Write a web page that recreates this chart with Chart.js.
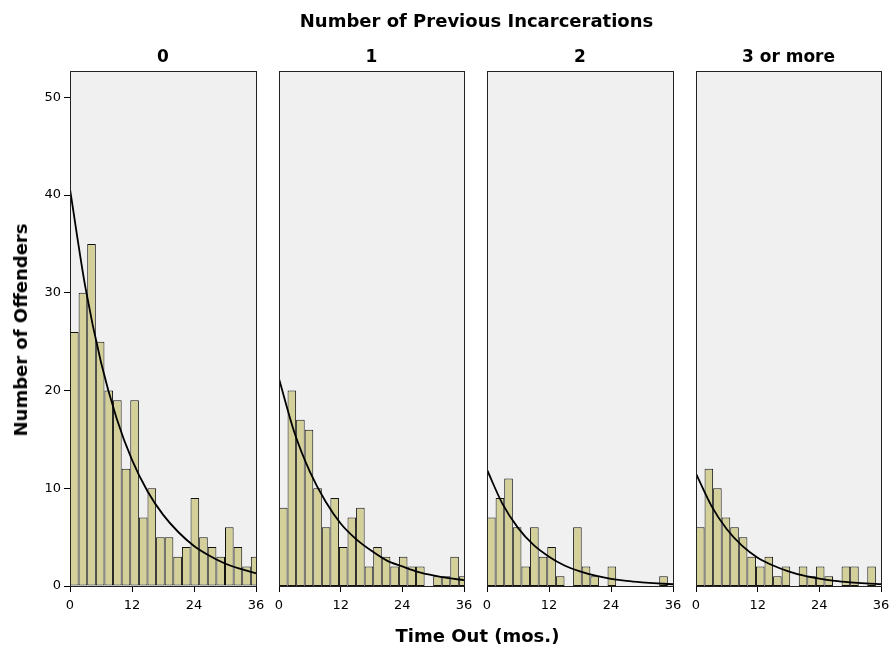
<!DOCTYPE html>
<html>
<head>
<meta charset="utf-8">
<script src="https://cdn.jsdelivr.net/npm/chart.js@4/dist/chart.umd.min.js"></script>
<style>
body{margin:0;background:#fff;}
#wrap{position:relative;width:891px;height:649px;overflow:hidden;font-family:"DejaVu Sans",sans-serif;}
#wrap canvas{position:absolute;left:0;top:0;}
.lbl{position:absolute;font-weight:bold;color:#000;white-space:nowrap;line-height:1;text-align:center;}
</style>
</head>
<body>
<div id="wrap">
	<canvas id="p0" width="930" height="649"></canvas>
	<canvas id="p1" width="930" height="649"></canvas>
	<canvas id="p2" width="930" height="649"></canvas>
	<canvas id="p3" width="930" height="649"></canvas>
	<div class="lbl" style="left:0;width:953px;top:12px;font-size:18px">Number of Previous Incarcerations</div>
	<div class="lbl" id="h0" style="top:48px;font-size:17px"></div>
	<div class="lbl" id="h1" style="top:48px;font-size:17px"></div>
	<div class="lbl" id="h2" style="top:48px;font-size:17px"></div>
	<div class="lbl" id="h3" style="top:48px;font-size:17px"></div>
	<div class="lbl" style="left:0;width:955px;top:627px;font-size:18px">Time Out (mos.)</div>
	<div class="lbl" style="left:21px;top:330px;font-size:18px;transform:translate(-50%,-50%) rotate(-90deg)">Number of Offenders</div>
</div>
<script>
// panel headers (previous incarcerations)
var groups=['0','1','2','3 or more'];
// bin width in months (22 bins, last one runs past 36)
var binWidth=5/3;
// counts per bin for each panel
var counts0=[26,30,35,25,20,19,12,19,7,10,5,5,3,4,9,5,4,3,6,4,2,3];
var counts1=[8,20,17,16,10,6,9,4,7,8,2,4,3,2,3,2,2,0,1,1,3,1];
var counts2=[7,9,11,6,2,6,3,4,1,0,6,2,1,0,2,0,0,0,0,0,1,0];
var counts3=[6,12,10,7,6,5,3,2,3,1,2,0,2,1,2,1,0,2,2,0,2,0];
// fitted curve
var curveX=[0,3,6,9,12,15,18,21,24,27,30,33,36];
var curve0=[40.6,30.5,22.9,17.2,12.9,9.7,7.3,5.5,4.1,3.1,2.3,1.75,1.3];
var curve1=[21.2,15.7,11.7,8.7,6.4,4.8,3.6,2.6,2.0,1.45,1.08,0.8,0.6];
var curve2=[11.9,8.4,5.95,4.2,3.0,2.1,1.5,1.05,0.74,0.52,0.37,0.26,0.18];
var curve3=[11.5,8.2,5.8,4.1,2.9,2.1,1.5,1.05,0.75,0.53,0.38,0.27,0.19];
var xTicks=[0,12,24,36];
var yMax=52.7;

var countsList=[counts0,counts1,counts2,counts3];
var curveList=[curve0,curve1,curve2,curve3];
// plot area of each panel (left,right), shared top/bottom
var panelX=[[70,256],[279,464],[487,673],[696,881]];
var areaTop=71,areaBottom=586;
var W=930,H=649; // canvas a bit wider than the page so the last panel keeps its width

Chart.defaults.font.family='"DejaVu Sans", sans-serif';
Chart.defaults.font.size=13;
Chart.defaults.color='#000';

//panel background + frame
var framePlugin={
	id:'panelFrame',
	beforeDraw:function(chart){
		var a=chart.chartArea,ctx=chart.ctx;
		ctx.save();
		ctx.fillStyle='#f0f0f0';
		ctx.fillRect(a.left,a.top,a.right-a.left,a.bottom-a.top);
		ctx.restore();
	},
	afterDatasetsDraw:function(chart){
		var a=chart.chartArea,ctx=chart.ctx;
		ctx.save();
		ctx.strokeStyle='#222';
		ctx.lineWidth=1;
		ctx.strokeRect(a.left+0.5,a.top+0.5,a.right-a.left,a.bottom-a.top);
		ctx.restore();
	}
};

function makePanel(p){
	var counts=countsList[p],curve=curveList[p];
	var bars=[],line=[];
	for(var i=0;i<counts.length;i++){
		bars.push({x:(i+0.5)*binWidth,y:counts[i]===0 ? null : counts[i]});
	}
	for(var j=0;j<curveX.length;j++){
		line.push({x:curveX[j],y:curve[j]});
	}
	var first=p===0;
	var yW=first ? 50 : 0,xH=40;
	new Chart(document.getElementById('p'+p),{
		type:'bar',
		data:{
			datasets:[{
				type:'line',
				data:line,
				borderColor:'#000',
				borderWidth:1.8,
				pointRadius:0,
				fill:false,
				cubicInterpolationMode:'monotone',
				order:0
			},{
				data:bars,
				backgroundColor:'#d4d09a',
				borderColor:'#111',
				borderWidth:1,
				borderSkipped:false,
				inflateAmount:0,
				barPercentage:1,
				categoryPercentage:1,
				order:1
			}]
		},
		options:{
			responsive:false,
			animation:false,
			devicePixelRatio:1,
			layout:{padding:{
				left:panelX[p][0]-yW,
				right:W-panelX[p][1],
				top:areaTop,
				bottom:H-areaBottom-xH
			}},
			plugins:{legend:{display:false},tooltip:{enabled:false},title:{display:false}},
			scales:{
				x:{
					type:'linear',min:0,max:36,offset:false,
					afterBuildTicks:function(s){ s.ticks=xTicks.map(function(v){return {value:v};}); },
					afterFit:function(s){ s.height=xH; },
					border:{display:false},
					grid:{offset:false,drawOnChartArea:false,drawTicks:true,tickLength:6,color:'#000'},
					ticks:{padding:6,maxRotation:0,font:{size:13}}
				},
				y:{
					display:first,min:0,max:yMax,
					afterFit:function(s){ s.width=yW; },
					border:{display:false},
					grid:{drawOnChartArea:false,drawTicks:true,tickLength:6,color:'#000'},
					ticks:{stepSize:10,includeBounds:false,padding:3,font:{size:13}}
				}
			}
		},
		plugins:[framePlugin]
	});
	// header text over the panel
	var h=document.getElementById('h'+p);
	h.textContent=groups[p];
	h.style.left=panelX[p][0]+'px';
	h.style.width=(panelX[p][1]-panelX[p][0])+'px';
}

for(var p=0;p<4;p++){
	makePanel(p);
}
</script>
</body>
</html>
